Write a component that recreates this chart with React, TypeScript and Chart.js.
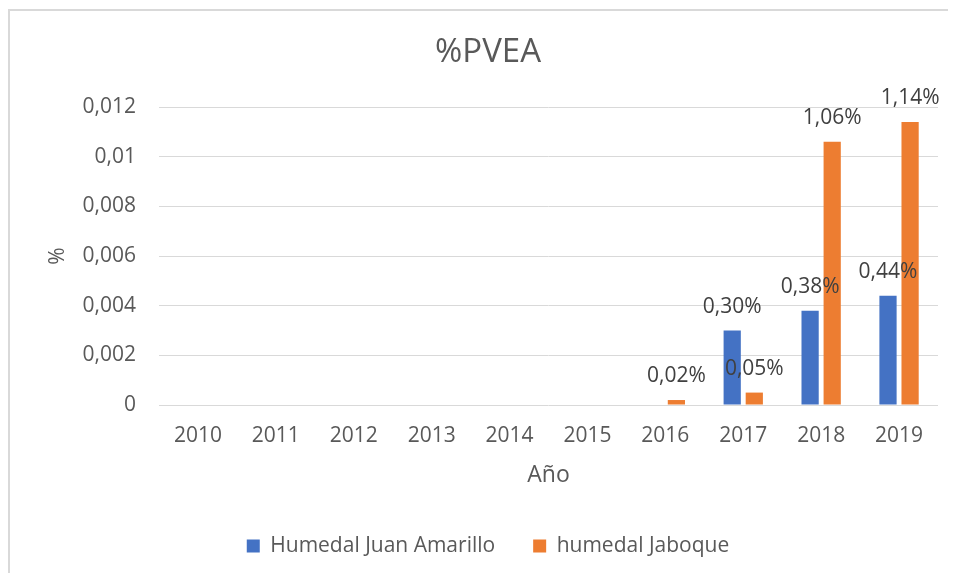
import React, { useEffect, useRef } from "react";
import { Chart, registerables } from "chart.js";

Chart.register(...registerables);

const years = ["2010", "2011", "2012", "2013", "2014", "2015", "2016", "2017", "2018", "2019"];
const juanAmarillo = [null, null, null, null, null, null, null, 0.003, 0.0038, 0.0044];
const jaboque = [null, null, null, null, null, null, 0.0002, 0.0005, 0.0106, 0.0114];
const seriesNames = ["Humedal Juan Amarillo", "humedal Jaboque"];
const yTicks = [0, 0.002, 0.004, 0.006, 0.008, 0.01, 0.012];

const FONT = "'Open Sans', 'Noto Sans', sans-serif";
const GREY = "#595959";

const fmtTick = (v: number) => String(Number(v.toFixed(3))).replace(".", ",");
const fmtPct = (v: number) => (v * 100).toFixed(2).replace(".", ",") + "%";

const valueLabels = {
  id: "valueLabels",
  afterDatasetsDraw(chart: any) {
    const ctx = chart.ctx;
    ctx.save();
    ctx.font = `21px ${FONT}`;
    ctx.fillStyle = "#404040";
    ctx.textAlign = "center";
    ctx.textBaseline = "alphabetic";
    chart.data.datasets.forEach((ds: any, i: number) => {
      const meta = chart.getDatasetMeta(i);
      meta.data.forEach((bar: any, j: number) => {
        const v = ds.data[j];
        if (v === null || v === undefined) return;
        ctx.fillText(fmtPct(v), bar.x, bar.y - 18);
      });
    });
    ctx.restore();
  },
};

export default function App() {
  const ref = useRef<HTMLCanvasElement>(null);
  useEffect(() => {
    if (!ref.current) return;
    const chart = new Chart(ref.current, {
      type: "bar",
      data: {
        labels: years,
        datasets: [
          {
            label: seriesNames[0],
            data: juanAmarillo,
            backgroundColor: "#4472C4",
            categoryPercentage: 0.567,
            barPercentage: 0.78,
          },
          {
            label: seriesNames[1],
            data: jaboque,
            backgroundColor: "#ED7D31",
            categoryPercentage: 0.567,
            barPercentage: 0.78,
          },
        ],
      },
      options: {
        responsive: false,
        animation: false,
        layout: { padding: { left: 0, right: 0, top: 0, bottom: 24.5 } },
        plugins: {
          title: {
            display: true,
            text: "%PVEA",
            color: GREY,
            font: { family: FONT, size: 33, weight: "normal" },
            padding: { top: 22, bottom: 34.4 },
          },
          legend: {
            position: "bottom",
            labels: {
              color: GREY,
              font: { family: FONT, size: 21 },
              boxWidth: 13,
              boxHeight: 13,
              padding: 38,
            },
          },
          tooltip: { enabled: false },
        },
        scales: {
          x: {
            grid: { display: false, drawTicks: false },
            border: { display: false },
            ticks: { color: GREY, font: { family: FONT, size: 21 }, padding: 18 },
            title: {
              display: true,
              text: "Año",
              color: GREY,
              font: { family: FONT, size: 23 },
              padding: { top: 0, bottom: 8.7 },
            },
            afterFit: (s: any) => {
              s.height = 92.5;
            },
          },
          y: {
            min: 0,
            max: 0.012,
            grid: { color: "#d9d9d9", lineWidth: 1, drawTicks: false },
            border: { display: false },
            afterBuildTicks: (s: any) => {
              s.ticks = yTicks.map((v) => ({ value: v }));
            },
            ticks: {
              color: GREY,
              font: { family: FONT, size: 21 },
              padding: 23,
              callback: (v: any) => fmtTick(Number(v)),
            },
            title: {
              display: true,
              text: "%",
              color: GREY,
              font: { family: FONT, size: 21 },
              padding: { top: 35, bottom: 0 },
            },
            afterFit: (s: any) => {
              s.width = 149;
            },
          },
          yRight: {
            type: "linear",
            position: "right",
            min: 0,
            max: 1,
            grid: { display: false, drawTicks: false },
            border: { display: false },
            ticks: { display: false },
            afterFit: (s: any) => {
              s.width = 28;
            },
          },
        },
      },
      plugins: [valueLabels],
    } as any);
    return () => chart.destroy();
  }, []);

  return (
    <div style={{ width: 948, height: 565, overflow: "hidden" }}>
      <div
        style={{
          marginTop: 1,
          width: 960,
          height: 600,
          border: "2px solid #d9d9d9",
          boxSizing: "border-box",
          background: "#fff",
        }}
      >
        <canvas ref={ref} width={956} height={580} style={{ display: "block" }} />
      </div>
    </div>
  );
}
